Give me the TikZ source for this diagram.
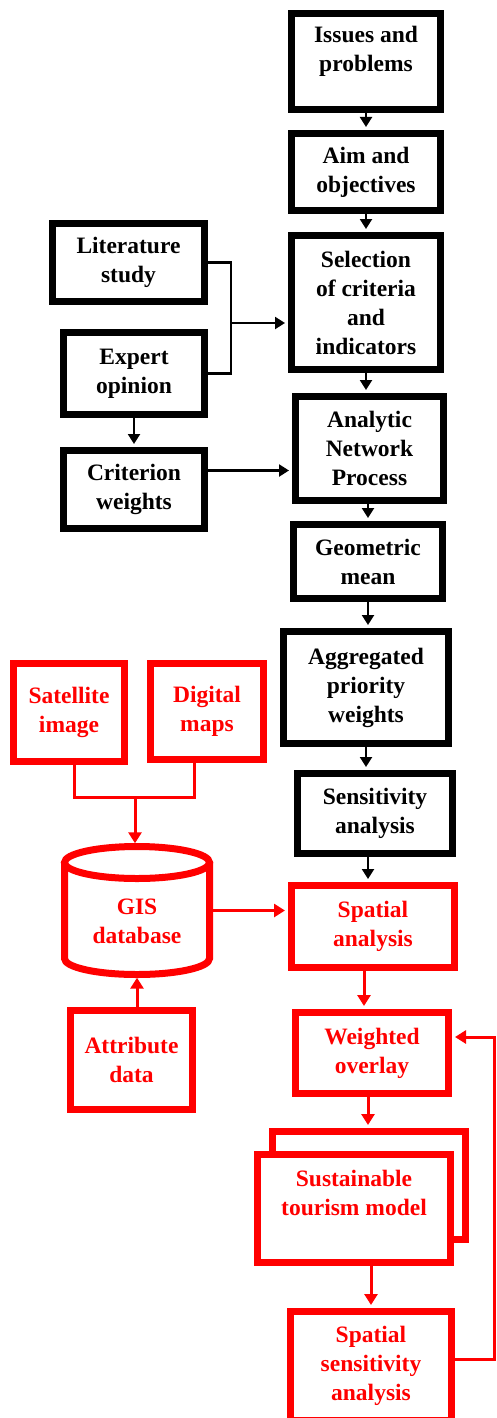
\documentclass[tikz,border=0pt]{standalone}
\usepackage{fontspec}
\setmainfont{Liberation Serif}
\usetikzlibrary{arrows.meta,shadows}

\tikzset{
  blkbox/.style={draw=black, line width=7pt, fill=white, align=center, inner sep=2pt,
    font=\bfseries\fontsize{23.5}{29}\selectfont,
    drop shadow={shadow xshift=2.5pt, shadow yshift=-2.5pt, fill=black, opacity=0.25}},
  redbox/.style={blkbox, draw=red, text=red},
  blkline/.style={line width=2.2pt},
  redline/.style={line width=3pt, draw=red},
  blkarr/.style={blkline, -{Triangle[length=10pt,width=12pt]}, shorten >=3pt},
  redarr/.style={redline, -{Triangle[length=11pt,width=13pt]}, shorten >=3pt},
}

\begin{document}
\begin{tikzpicture}[x=1pt, y=-1pt]
\useasboundingbox (0,0) rectangle (496,1418);

% Main column
\node[blkbox, minimum width=149pt, minimum height=96pt] (issues) at (366,61.5) {Issues and\\problems\\[-13pt]\strut};
\node[blkbox, minimum width=149pt, minimum height=77pt] (aim) at (366,172) {Aim and\\objectives};
\node[blkbox, minimum width=149pt, minimum height=134pt] (select) at (366,302.5) {Selection\\of criteria\\and\\indicators};
\node[blkbox, minimum width=148pt, minimum height=104pt] (anp) at (369.5,448.5) {Analytic\\Network\\Process};
\node[blkbox, minimum width=149pt, minimum height=74pt] (geo) at (368,561.5) {Geometric\\mean};
\node[blkbox, minimum width=165pt, minimum height=112pt] (agg) at (366,687.5) {Aggregated\\priority\\weights};
\node[blkbox, minimum width=155pt, minimum height=80pt] (sens) at (375,813.5) {Sensitivity\\analysis};

% Left inputs
\node[blkbox, minimum width=152pt, minimum height=78pt] (lit) at (128.5,262.5) {Literature\\study};
\node[blkbox, minimum width=141pt, minimum height=82pt] (expert) at (134,373.5) {Expert\\opinion};
\node[blkbox, minimum width=141pt, minimum height=78pt] (crit) at (134,489.5) {Criterion\\weights};
\coordinate (jn) at (231,323);

% GIS part
\node[redbox, minimum width=111pt, minimum height=98pt] (sat) at (69,712.5) {Satellite\\image};
\node[redbox, minimum width=113pt, minimum height=96pt] (digi) at (207,711.5) {Digital\\maps};
\coordinate (dj) at (135,797);
\draw[draw=red, line width=7pt] (137,862.5) ellipse [x radius=72.5, y radius=16];
\draw[draw=red, line width=7pt] (64.5,862.5) -- (64.5,958.5)
  arc[start angle=180, end angle=0, x radius=72.5, y radius=16] -- (209.5,862.5);
\node[text=red, align=center, font=\bfseries\fontsize{23.5}{29}\selectfont,
  minimum width=145pt, minimum height=128pt] (gis) at (137,910.5) {\strut\\[-13pt]GIS\\database};
\node[redbox, minimum width=122pt, minimum height=99pt] (attr) at (131.5,1060) {Attribute\\data};

\node[redbox, minimum width=163pt, minimum height=82pt] (spat) at (373,926.5) {Spatial\\analysis};
\node[redbox, minimum width=153pt, minimum height=81pt] (wov) at (372,1053) {Weighted\\overlay};
\node[redbox, minimum width=193pt, minimum height=108pt] (stmback) at (369,1185.5) {};
\node[redbox, minimum width=193pt, minimum height=108pt] (stm) at (354,1208.5) {Sustainable\\tourism model\\[-6pt]\strut};
\node[redbox, minimum width=161pt, minimum height=109pt] (ssa) at (371,1366) {Spatial\\sensitivity\\analysis};
\coordinate (fb) at (494,1037);

% Black connectors
\draw[blkarr] (issues) -- (aim);
\draw[blkarr] (aim) -- (select);
\draw[blkarr] (select.south) -- (select.south |- anp.north);
\draw[blkarr] (geo.north |- anp.south) -- (geo.north);
\draw[blkarr] (geo.south) -- (geo.south |- agg.north);
\draw[blkarr] (agg.south) -- (agg.south |- sens.north);
\draw[blkarr] ([xshift=-7pt]sens.south) -- ([xshift=-7pt]sens.south |- spat.north);
\draw[blkline] (lit.east) -| (jn) |- (expert.east);
\draw[blkarr] (jn) -- (jn -| select.west);
\draw[blkarr] (expert.south) -- (expert.south |- crit.north);
\draw[blkarr] ([yshift=19pt]crit.east) -- ([yshift=19pt]crit.east -| anp.west);

% Red connectors
\draw[redline] ([xshift=5pt]sat.south) |- (dj);
\draw[redline] ([xshift=-13pt]digi.south) |- (dj);
\draw[redarr] (dj) -- (dj |- gis.north);
\draw[redarr] (gis.east) -- (gis.east -| spat.west);
\draw[redarr] (attr.north -| gis.south) -- (gis.south);
\draw[redarr] ([xshift=-9pt]spat.south) -- ([xshift=-9pt]spat.south |- wov.north);
\draw[redarr] ([xshift=-4pt]wov.south) -- ([xshift=-4pt]wov.south |- stmback.north);
\draw[redarr] (ssa.north |- stm.south) -- (ssa.north);
\draw[redarr] ([yshift=7pt]ssa.east) -| (fb) -- (fb -| wov.east);
\end{tikzpicture}
\end{document}
